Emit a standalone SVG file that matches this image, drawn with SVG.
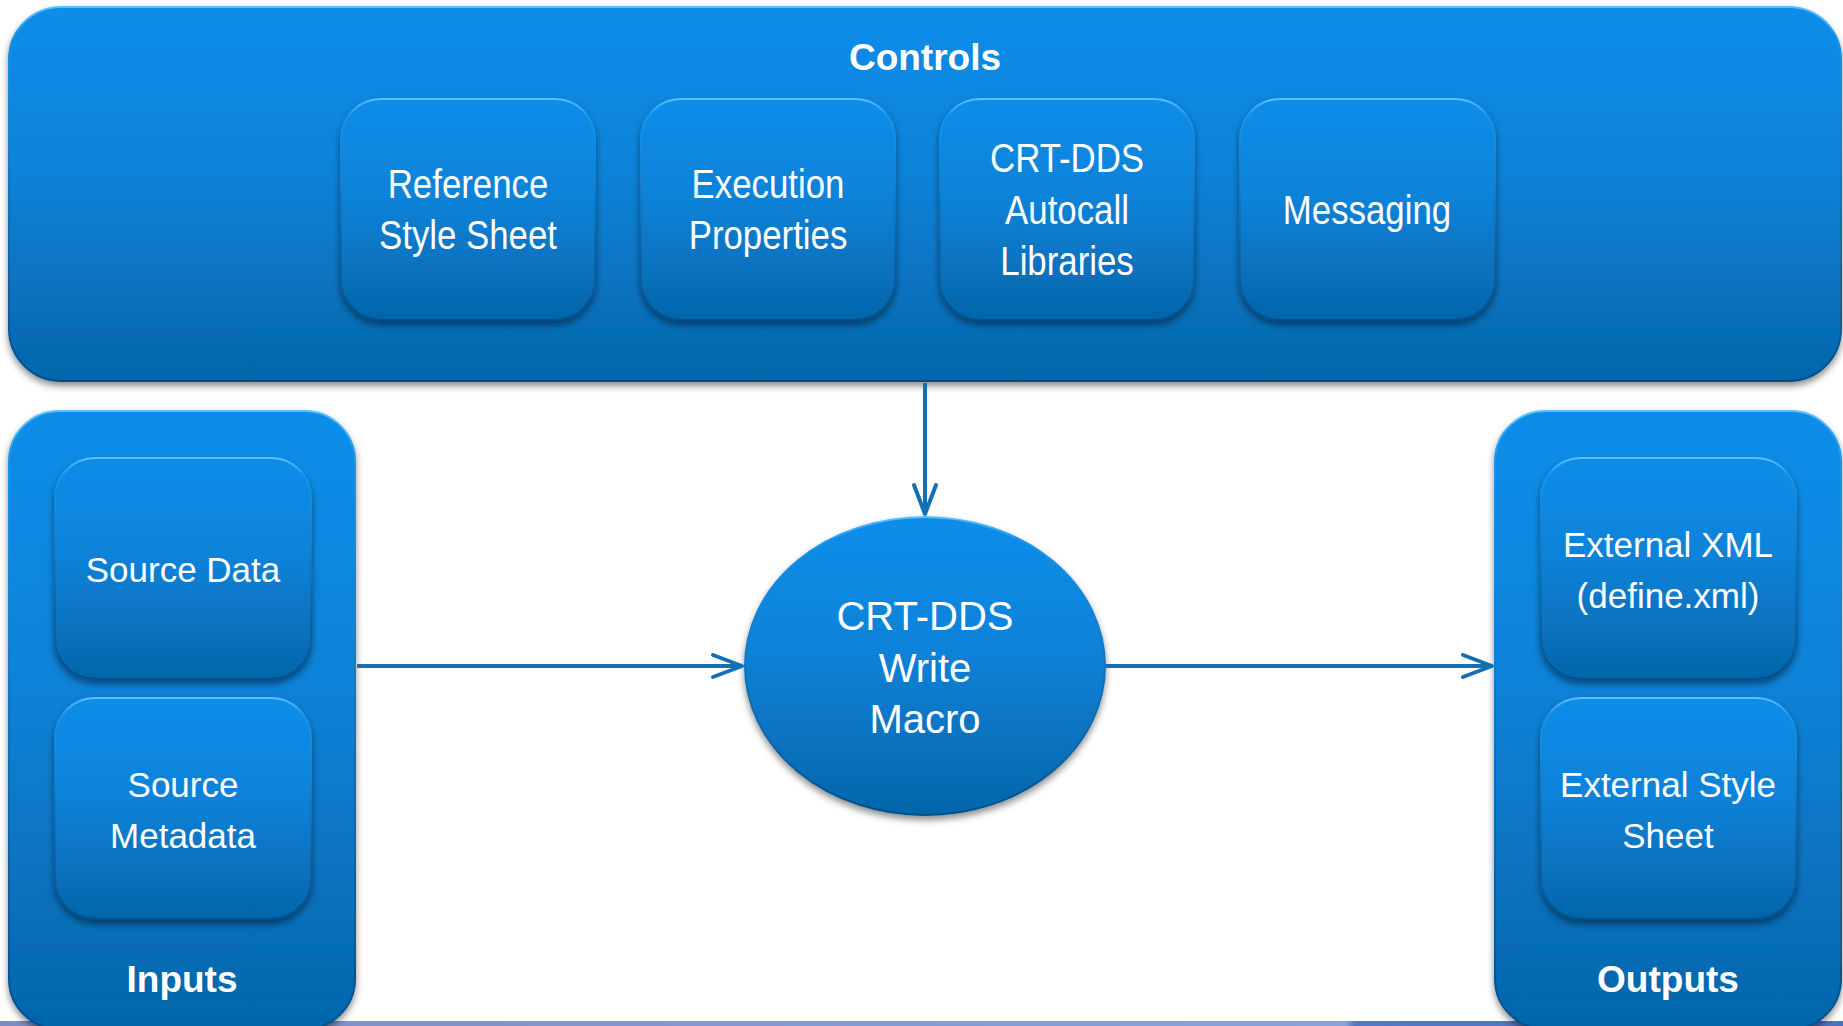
<svg xmlns="http://www.w3.org/2000/svg" width="1843" height="1026" viewBox="0 0 1843 1026">
<style>
.box{fill:url(#gFill);stroke:url(#gEdge);stroke-width:2;filter:url(#shadow)}
.lbl{font-family:"Liberation Sans",Arial,sans-serif;font-size:35px;fill:#ffffff;text-anchor:middle}
.nar{font-size:40px}
.big{font-size:40px}
.title{font-family:"Liberation Sans",Arial,sans-serif;font-size:37px;font-weight:bold;fill:#ffffff;text-anchor:middle}
.conn{fill:none;stroke:#1470b2;stroke-width:4;marker-end:url(#arrow)}
</style>
<defs>
<linearGradient id="gFill" x1="0" y1="0" x2="0" y2="1">
<stop offset="0" stop-color="#0a8de9"/>
<stop offset="0.45" stop-color="#0882d8"/>
<stop offset="1" stop-color="#0665aa"/>
</linearGradient>
<linearGradient id="gEdge" x1="0" y1="0" x2="0" y2="1">
<stop offset="0" stop-color="#5cc0ff"/>
<stop offset="0.08" stop-color="#1a94ea"/>
<stop offset="1" stop-color="#04508a"/>
</linearGradient>
<linearGradient id="gStrip" x1="0" y1="0" x2="1" y2="0">
<stop offset="0" stop-color="#7c8dc5"/>
<stop offset="0.73" stop-color="#8aa2da"/>
<stop offset="0.735" stop-color="#5577c6"/>
<stop offset="1" stop-color="#4d70c2"/>
</linearGradient>
<filter id="shadow" x="-10%" y="-10%" width="120%" height="130%">
<feDropShadow dx="0" dy="4" stdDeviation="3.5" flood-color="#000000" flood-opacity="0.45"/>
</filter>
<marker id="arrow" markerUnits="userSpaceOnUse" viewBox="-34 -16 38 32" markerWidth="38" markerHeight="32" refX="0" refY="0" orient="auto">
<path d="M-29,-11 L0,0 L-29,11" fill="none" stroke="#1470b2" stroke-width="4" stroke-linecap="round" stroke-linejoin="round"/>
</marker>
</defs>
<rect x="0" y="1021" width="1843" height="5" fill="url(#gStrip)"/>
<g id="controls">
<rect class="box" x="9" y="7" width="1832" height="374" rx="52"/>
<text class="title" x="925" y="70">Controls</text>
</g>
<g id="reference-style-sheet">
<rect class="box" x="341" y="99" width="254" height="221" rx="40"/>
<g transform="translate(468 0) scale(0.87 1)">
<text class="lbl nar" x="0" y="198">Reference</text>
<text class="lbl nar" x="0" y="249">Style Sheet</text>
</g>
</g>
<g id="execution-properties">
<rect class="box" x="641" y="99" width="254" height="221" rx="40"/>
<g transform="translate(768 0) scale(0.87 1)">
<text class="lbl nar" x="0" y="198">Execution</text>
<text class="lbl nar" x="0" y="249">Properties</text>
</g>
</g>
<g id="autocall-libraries">
<rect class="box" x="940" y="99" width="254" height="221" rx="40"/>
<g transform="translate(1067 0) scale(0.87 1)">
<text class="lbl nar" x="0" y="172">CRT-DDS</text>
<text class="lbl nar" x="0" y="224">Autocall</text>
<text class="lbl nar" x="0" y="275">Libraries</text>
</g>
</g>
<g id="messaging">
<rect class="box" x="1240" y="99" width="255" height="221" rx="40"/>
<g transform="translate(1367 0) scale(0.87 1)">
<text class="lbl nar" x="0" y="224">Messaging</text>
</g>
</g>
<g id="inputs">
<rect class="box" x="9" y="411" width="346" height="618" rx="50"/>
<text class="title" x="182" y="992">Inputs</text>
</g>
<g id="source-data">
<rect class="box" x="55" y="458" width="256" height="221" rx="40"/>
<text class="lbl" x="183" y="582">Source Data</text>
</g>
<g id="source-metadata">
<rect class="box" x="55" y="698" width="256" height="221" rx="40"/>
<text class="lbl" x="183" y="797">Source</text>
<text class="lbl" x="183" y="848">Metadata</text>
</g>
<g id="outputs">
<rect class="box" x="1495" y="411" width="346" height="618" rx="50"/>
<text class="title" x="1668" y="992">Outputs</text>
</g>
<g id="external-xml">
<rect class="box" x="1541" y="458" width="255" height="221" rx="40"/>
<text class="lbl" x="1668" y="557">External XML</text>
<text class="lbl" x="1668" y="608">(define.xml)</text>
</g>
<g id="external-style-sheet">
<rect class="box" x="1541" y="698" width="255" height="221" rx="40"/>
<text class="lbl" x="1668" y="797">External Style</text>
<text class="lbl" x="1668" y="848">Sheet</text>
</g>
<g id="write-macro">
<ellipse class="box" cx="925" cy="666" rx="180" ry="149"/>
<text class="lbl big" x="925" y="630">CRT-DDS</text>
<text class="lbl big" x="925" y="682">Write</text>
<text class="lbl big" x="925" y="733">Macro</text>
</g>
<g id="connectors">
<line class="conn" x1="925" y1="383" x2="925" y2="514"/>
<line class="conn" x1="357" y1="666" x2="742" y2="666"/>
<line class="conn" x1="1106" y1="666" x2="1492" y2="666"/>
</g>
</svg>
